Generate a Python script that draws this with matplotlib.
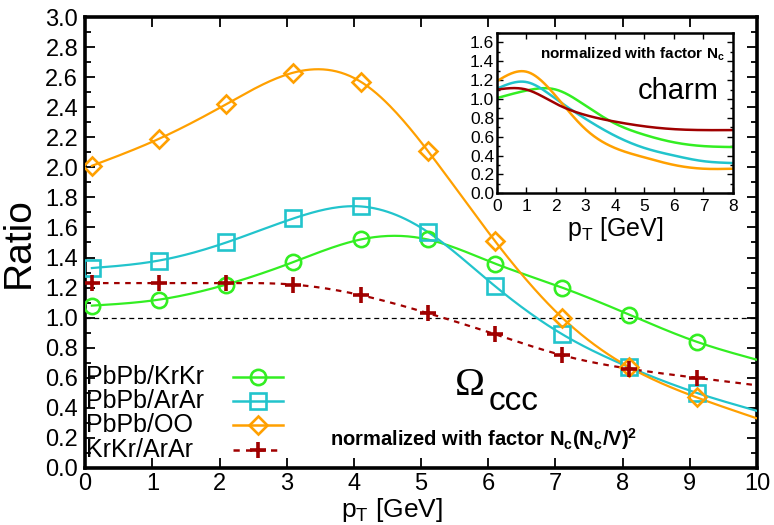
import numpy as np
import matplotlib
matplotlib.use("Agg")
import matplotlib.pyplot as plt
from matplotlib.lines import Line2D
from matplotlib.ticker import MultipleLocator, FormatStrFormatter

plt.rcParams['font.family'] = ['Liberation Sans', 'DejaVu Sans']
plt.rcParams['mathtext.fontset'] = 'custom'
plt.rcParams['mathtext.rm'] = 'Liberation Sans'
plt.rcParams['mathtext.it'] = 'Liberation Sans'
plt.rcParams['mathtext.bf'] = 'Liberation Sans:bold'

# ---------------- data ----------------
pt = [0.1, 1.1, 2.1, 3.1, 4.1, 5.1, 6.1, 7.1, 8.1, 9.1]
pt_end = 10.0
labels = ["PbPb/KrKr", "PbPb/ArAr", "PbPb/OO", "KrKr/ArAr"]
pbpb_krkr = [1.08, 1.12, 1.22, 1.37, 1.52, 1.52, 1.36, 1.20, 1.02, 0.84]
pbpb_arar = [1.33, 1.38, 1.50, 1.66, 1.74, 1.57, 1.21, 0.89, 0.67, 0.50]
pbpb_oo = [2.01, 2.19, 2.42, 2.63, 2.57, 2.11, 1.51, 1.00, 0.67, 0.47]
krkr_arar = [1.23, 1.23, 1.23, 1.22, 1.15, 1.03, 0.89, 0.75, 0.66, 0.60]
curve_end = [0.72, 0.38, 0.33, 0.55]   # curve values at pT = 10

# inset (charm)
pt_in = [0, 1, 2, 3, 4, 5, 6, 7, 8]
in_krkr = [1.01, 1.09, 1.10, 0.93, 0.74, 0.62, 0.54, 0.50, 0.49]
in_arar = [1.11, 1.18, 1.00, 0.79, 0.61, 0.48, 0.40, 0.34, 0.32]
in_oo = [1.19, 1.29, 1.03, 0.68, 0.48, 0.38, 0.30, 0.26, 0.26]
in_kr_ar = [1.10, 1.10, 0.95, 0.83, 0.76, 0.71, 0.68, 0.67, 0.67]

colors = ["#33ee22", "#22c4cc", "#ffa000", "#a00000"]
markers = ["o", "s", "D", "P"]


def spline(x, y, n=300):
    x = np.asarray(x, float); y = np.asarray(y, float)
    m = len(x); h = np.diff(x)
    A = np.zeros((m, m)); b = np.zeros(m)
    A[0, 0] = A[-1, -1] = 1
    for i in range(1, m - 1):
        A[i, i - 1] = h[i - 1]; A[i, i] = 2 * (h[i - 1] + h[i]); A[i, i + 1] = h[i]
        b[i] = 3 * ((y[i + 1] - y[i]) / h[i] - (y[i] - y[i - 1]) / h[i - 1])
    c = np.linalg.solve(A, b)
    xs = np.linspace(x[0], x[-1], n)
    idx = np.clip(np.searchsorted(x, xs) - 1, 0, m - 2)
    dx = xs - x[idx]
    bb = (y[1:] - y[:-1]) / h - h * (2 * c[:-1] + c[1:]) / 3
    d = (c[1:] - c[:-1]) / (3 * h)
    ys = y[idx] + bb[idx] * dx + c[idx] * dx ** 2 + d[idx] * dx ** 3
    return xs, ys


def draw_marker(axx, x, y, k):
    if markers[k] == "P":
        axx.plot(x, y, ls='none', marker='+', ms=12, mew=2.6, color=colors[k], zorder=4)
    else:
        axx.plot(x, y, ls='none', marker=markers[k], ms=11 if markers[k] != 'D' else 9.5,
                 mfc='none', mec=colors[k], mew=1.9, zorder=4)


fig = plt.figure(figsize=(7.74, 5.25), dpi=100)
ax = fig.add_axes([0.110, 0.1086, 0.868, 0.859])

series = [pbpb_krkr, pbpb_arar, pbpb_oo, krkr_arar]
for k, ys in enumerate(series):
    xs, yy = spline(pt + [pt_end], ys + [curve_end[k]])
    ls = (0, (2.5, 2.5)) if k == 3 else '-'
    ax.plot(xs, yy, color=colors[k], lw=1.6, ls=ls, zorder=3)
    draw_marker(ax, pt, ys, k)

ax.axhline(1.0, color='black', lw=0.9, ls=(0, (4, 3)), zorder=2)

ax.set_xlim(0, 10)
ax.set_ylim(0, 3.0)
ax.xaxis.set_major_locator(MultipleLocator(1))
ax.yaxis.set_major_locator(MultipleLocator(0.2))
ax.yaxis.set_minor_locator(MultipleLocator(0.1))
ax.yaxis.set_major_formatter(FormatStrFormatter('%.1f'))
ax.tick_params(which='both', direction='in', top=True, right=True, labelsize=17, width=1.3)
ax.tick_params(which='major', length=7)
ax.tick_params(which='minor', length=4)
ax.tick_params(axis='y', pad=5)
for s in ax.spines.values():
    s.set_linewidth(2.6)
ax.set_ylabel("Ratio", fontsize=28, labelpad=6)
ax.set_xlabel("p$_\\mathregular{T}$ [GeV]", fontsize=19)
ax.xaxis.set_label_coords(0.457, -0.062)

# manual legend
leg_y = [0.605, 0.446, 0.286, 0.12]
for k in range(4):
    ax.text(0.02, leg_y[k], labels[k], fontsize=18, va='center', ha='left', zorder=5)
    ls = (0, (2.5, 2.5)) if k == 3 else '-'
    ax.add_line(Line2D([2.2, 2.95], [leg_y[k], leg_y[k]], color=colors[k], lw=1.8, ls=ls))
    draw_marker(ax, [2.57], [leg_y[k]], k)

ax.text(5.5, 0.486, "\u03a9", fontsize=29, family='Liberation Serif', va='baseline', ha='left')
ax.text(6.0, 0.386, "ccc", fontsize=24, va='baseline', ha='left')
ax.text(3.65, 0.19, "normalized with factor N$_\\mathregular{c}$(N$_\\mathregular{c}$/V)$^\\mathregular{2}$",
        fontsize=14.5, fontweight='bold', va='center', ha='left')

# inset
axi = fig.add_axes([0.642, 0.632, 0.305, 0.305])
in_series = [in_krkr, in_arar, in_oo, in_kr_ar]
for ys, c in zip(in_series, colors):
    xs, yy = spline(pt_in, ys)
    axi.plot(xs, yy, color=c, lw=1.8)
axi.set_xlim(0, 8)
axi.set_ylim(0, 1.7)
axi.xaxis.set_major_locator(MultipleLocator(1))
axi.yaxis.set_major_locator(MultipleLocator(0.2))
axi.yaxis.set_minor_locator(MultipleLocator(0.1))
axi.yaxis.set_major_formatter(FormatStrFormatter('%.1f'))
axi.tick_params(which='both', direction='in', top=True, right=True, labelsize=12.5, width=1.0, pad=2)
axi.tick_params(axis='x', pad=4)
axi.tick_params(which='major', length=4)
axi.tick_params(which='minor', length=2.5)
for s in axi.spines.values():
    s.set_linewidth(1.8)
axi.set_xlabel("p$_\\mathregular{T}$ [GeV]", fontsize=18, labelpad=1)
axi.text(7.73, 1.47, "normalized with factor N$_\\mathregular{c}$", fontsize=11, fontweight='bold',
         ha='right', va='center')
axi.text(7.53, 1.09, "charm", fontsize=21, ha='right', va='center')

fig.savefig("out.png", dpi=100)
